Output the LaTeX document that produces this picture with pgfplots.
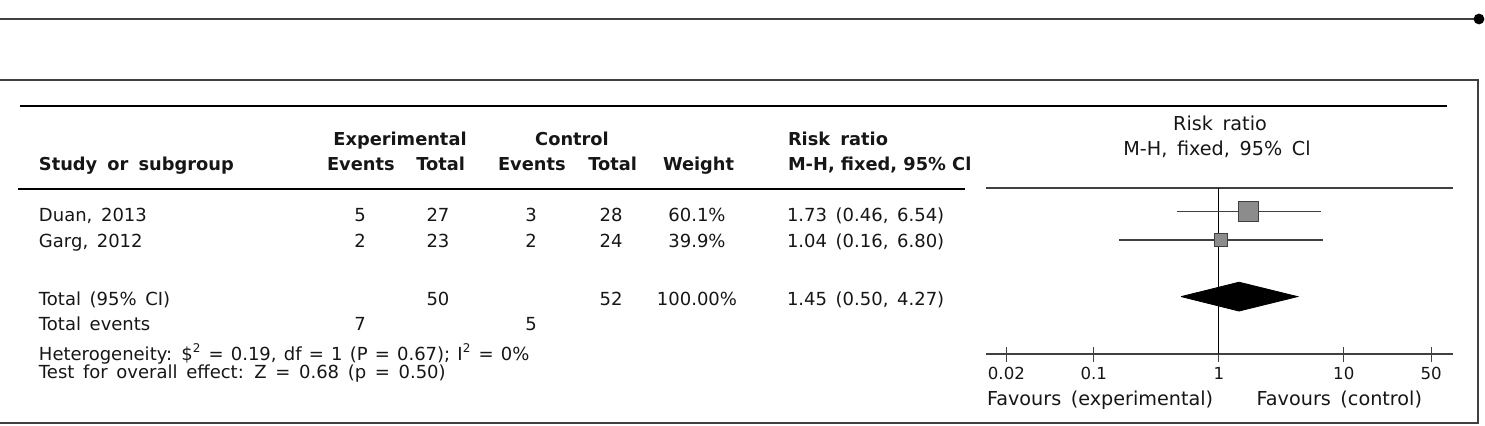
\documentclass[border=0pt]{standalone}
\usepackage{pgfplots}
\pgfplotsset{compat=1.18}
\usepackage{fontspec}
\setmainfont{DejaVu Sans}
\definecolor{txt}{HTML}{161616}
\definecolor{rule}{HTML}{404040}
\definecolor{boxfill}{HTML}{8C8C8C}
\newcommand\tf{\fontsize{9}{10}\selectfont\spaceskip=0.48em\relax}
\newcommand\nf{\fontsize{9}{10}\selectfont\spaceskip=0.40em\relax}
\newcommand\hf{\fontsize{8.9}{10}\selectfont\bfseries\spaceskip=0.57em\relax}
\newcommand\hbf{\fontsize{8.9}{10}\selectfont\bfseries}
\newcommand\rf{\fontsize{9.6}{10}\selectfont\spaceskip=0.5em\relax}
\newcommand\kf{\fontsize{8.3}{10}\selectfont}
\begin{document}
\begin{tikzpicture}
\begin{scope}[x=0.5pt,y=-0.5pt,
  every node/.style={inner sep=0pt, outer sep=0pt, text=txt, font=\tf}]
\useasboundingbox (0,0) rectangle (1485,425);
% page rule with end dot
\draw[rule, line width=1.1pt] (0,19) -- (1474,19);
\fill[black] (1479,19) circle[radius=2.7pt];
% frame
\draw[rule, line width=0.7pt] (-5,80) -- (1478,80) -- (1478,423) -- (-5,423);
% table rules
\draw[black, line width=1.3pt] (20,106) -- (1447,106);
\draw[black, line width=1.1pt] (18,189) -- (965,189);

% column headings
\begin{scope}[every node/.append style={font=\hf}]
\node[anchor=base west] at (39,170) {Study or subgroup};
\node[anchor=base] at (400,145) {Experimental};
\node[anchor=base west] at (327,170) {Events};
\node[anchor=base east] at (465,170) {Total};
\node[anchor=base] at (572,145) {Control};
\node[anchor=base west] at (498,170) {Events};
\node[anchor=base east] at (637,170) {Total};
\node[anchor=base west] at (663,170) {Weight};
\node[anchor=base west] at (788,145) {Risk ratio};
\node[anchor=base west, font=\hbf] at (788,170) {M-H, fixed, 95\% Cl};
\end{scope}
\node[anchor=base, font=\rf] at (1220,130) {Risk ratio};
\node[anchor=base, font=\rf] at (1217,155) {M-H, fixed, 95\% Cl};

% study rows
\node[anchor=base west] at (39,221) {Duan, 2013};
\node[anchor=base] at (360,221) {5};
\node[anchor=base] at (438,221) {27};
\node[anchor=base] at (531,221) {3};
\node[anchor=base] at (611,221) {28};
\node[anchor=base] at (697,221) {60.1\%};
\node[anchor=base west] at (787,221) {1.73 (0.46, 6.54)};

\node[anchor=base west] at (39,247) {Garg, 2012};
\node[anchor=base] at (360,247) {2};
\node[anchor=base] at (438,247) {23};
\node[anchor=base] at (531,247) {2};
\node[anchor=base] at (611,247) {24};
\node[anchor=base] at (697,247) {39.9\%};
\node[anchor=base west] at (787,247) {1.04 (0.16, 6.80)};

\node[anchor=base west] at (39,305) {Total (95\% CI)};
\node[anchor=base] at (438,305) {50};
\node[anchor=base] at (611,305) {52};
\node[anchor=base] at (697,305) {100.00\%};
\node[anchor=base west] at (787,305) {1.45 (0.50, 4.27)};

\node[anchor=base west] at (39,330) {Total events};
\node[anchor=base] at (360,330) {7};
\node[anchor=base] at (531,330) {5};

\node[anchor=base west, font=\nf] at (39,360) {Heterogeneity: \$\textsuperscript{2} = 0.19, df = 1 (P = 0.67); I\textsuperscript{2} = 0\%};
\node[anchor=base west] at (39,378) {Test for overall effect: Z = 0.68 (p = 0.50)};

\node[anchor=base west, font=\rf] at (987,405) {Favours (experimental)};
\node[anchor=base east, font=\rf] at (1422,405) {Favours (control)};
\end{scope}

% forest plot
\begin{axis}[at={(493pt,-177pt)}, anchor=south west, scale only axis,
  width=233.5pt, height=83pt,
  xmode=log, xmin=0.01373, xmax=74.75, ymin=-6.028, ymax=-0.1625,
  axis x line=bottom, axis y line=none,
  x axis line style={-, draw=rule, line width=0.65pt},
  xtick={0.02,0.1,1,10,50}, xticklabels={0.02,0.1,1,10,50},
  xminorticks=false,
  tick align=center, major tick length=7.5pt,
  xtick style={draw=rule, line width=0.65pt},
  xticklabel style={anchor=base, yshift=-8.85pt, inner sep=0pt,
    font=\kf, text=txt},
  clip=false]
\addplot[rule, line width=0.65pt] coordinates {(0.01373,-0.1625) (74.75,-0.1625)};
\addplot[black, line width=0.65pt] coordinates {(1,-0.1625) (1,-6.028)};
% confidence intervals
\addplot[rule, line width=0.7pt] coordinates {(0.46,-1) (6.54,-1)};
\addplot[rule, line width=0.7pt] coordinates {(0.16,-2) (6.80,-2)};
% point estimates, sized by weight
\addplot[only marks, mark=square*, mark size=5pt,
  mark options={fill=boxfill, draw=rule, line width=0.7pt}] coordinates {(1.73,-1)};
\addplot[only marks, mark=square*, mark size=3.2pt,
  mark options={fill=boxfill, draw=rule, line width=0.7pt}] coordinates {(1.04,-2)};
% pooled estimate
\addplot[fill=black, draw=black] coordinates {(0.50,-4) (1.45,-3.49) (4.27,-4) (1.45,-4.51) (0.50,-4)};
\end{axis}
\end{tikzpicture}
\end{document}
